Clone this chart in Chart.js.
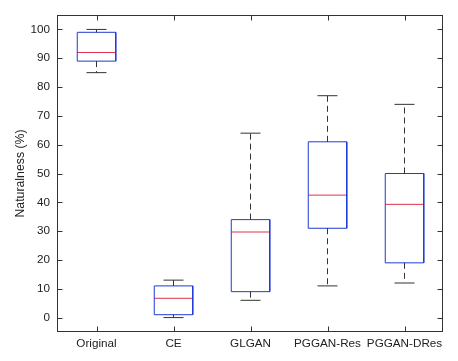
<!DOCTYPE html>
<html><head><meta charset="utf-8">
<script src="https://cdn.jsdelivr.net/npm/chart.js@4/dist/chart.umd.min.js"></script>
<style>html,body{margin:0;padding:0;background:#fff}#wrap{width:458px;height:361px}</style>
</head><body><div id="wrap"><canvas id="c" width="458" height="361"></canvas></div>
<script>
const categories = ['Original', 'CE', 'GLGAN', 'PGGAN-Res', 'PGGAN-DRes'];
const whiskerLow = [85, 0, 6, 11, 12];
const q1 = [89, 1, 9, 31, 19];
const median = [92, 6.7, 29.7, 42.5, 39.3];
const q3 = [99, 11, 34, 61, 50];
const whiskerHigh = [100, 13, 64, 77, 74];
const yTickValues = [0, 10, 20, 30, 40, 50, 60, 70, 80, 90, 100];

const BOX_HALF = 0.25, CAP_HALF = 0.13;
const boxPts = [], medPts = [], whiskPts = [], capPts = [];
categories.forEach((c, i) => {
  const x = i + 1, x0 = x - BOX_HALF, x1 = x + BOX_HALF;
  boxPts.push({x:x0,y:q1[i]},{x:x0,y:q3[i]},{x:x1,y:q3[i]},{x:x1,y:q1[i]},{x:x0,y:q1[i]},{x:x,y:null});
  medPts.push({x:x0,y:median[i]},{x:x1,y:median[i]},{x:x,y:null});
  whiskPts.push({x:x,y:q3[i]},{x:x,y:whiskerHigh[i]},{x:x,y:null},{x:x,y:q1[i]},{x:x,y:whiskerLow[i]},{x:x,y:null});
  capPts.push({x:x-CAP_HALF,y:whiskerHigh[i]},{x:x+CAP_HALF,y:whiskerHigh[i]},{x:x,y:null},
              {x:x-CAP_HALF,y:whiskerLow[i]},{x:x+CAP_HALF,y:whiskerLow[i]},{x:x,y:null});
});

const lineDs = (data, color, dash) => ({
  data, borderColor: color, borderWidth: 1, borderDash: dash || [], showLine: true,
  pointRadius: 0, fill: false, spanGaps: false, tension: 0
});

const framePlugin = {
  id: 'frame',
  afterDraw(chart) {
    const {ctx, chartArea: a, scales: {x, y}} = chart;
    ctx.save();
    ctx.strokeStyle = '#333';
    ctx.lineWidth = 1;
    const L = Math.round(a.left) - 0.5, R = Math.round(a.right) - 0.5, T = Math.round(a.top) + 0.5, B = Math.round(a.bottom) - 0.5;
    ctx.strokeRect(L, T, R - L, B - T);
    ctx.beginPath();
    const tl = 5;
    yTickValues.forEach(v => {
      const py = Math.round(y.getPixelForValue(v)) + 0.5;
      ctx.moveTo(L, py); ctx.lineTo(L + tl, py);
      ctx.moveTo(R, py); ctx.lineTo(R - tl, py);
    });
    categories.forEach((c, i) => {
      const px = Math.round(x.getPixelForValue(i + 1)) + 0.5;
      ctx.moveTo(px, T); ctx.lineTo(px, T + tl);
      ctx.moveTo(px, B); ctx.lineTo(px, B - tl);
    });
    ctx.stroke();
    ctx.restore();
  }
};

Chart.defaults.font.family = "'Liberation Sans', Arial, sans-serif";
Chart.defaults.font.size = 11.7;
Chart.defaults.color = '#222';

new Chart(document.getElementById('c'), {
  type: 'scatter',
  data: { datasets: [
    lineDs(whiskPts, '#333', [6, 4]),
    lineDs(capPts, '#333'),
    lineDs(boxPts, '#1f3ad6'),
    lineDs(medPts, '#e0304a')
  ]},
  options: {
    responsive: false, animation: false,
    layout: { padding: { left: 0, right: 15, top: 14, bottom: 0 } },
    plugins: { legend: { display: false }, tooltip: { enabled: false } },
    scales: {
      x: {
        type: 'linear', min: 0.5, max: 5.5,
        afterBuildTicks: s => { s.ticks = categories.map((c, i) => ({ value: i + 1 })); },
        afterFit: s => { s.height = 29; },
        grid: { display: false, drawTicks: false }, border: { display: false },
        ticks: { callback: v => categories[v - 1], padding: 5, maxRotation: 0, autoSkip: false }
      },
      y: {
        min: -5, max: 105,
        afterBuildTicks: s => { s.ticks = yTickValues.map(v => ({ value: v })); },
        afterFit: s => { s.width = 58; },
        grid: { display: false, drawTicks: false }, border: { display: false },
        ticks: { padding: 8 },
        title: { display: true, text: 'Naturalness (%)', padding: { top: 13, bottom: 0 }, font: { size: 12.3 } }
      }
    }
  },
  plugins: [framePlugin]
});
</script></body></html>
